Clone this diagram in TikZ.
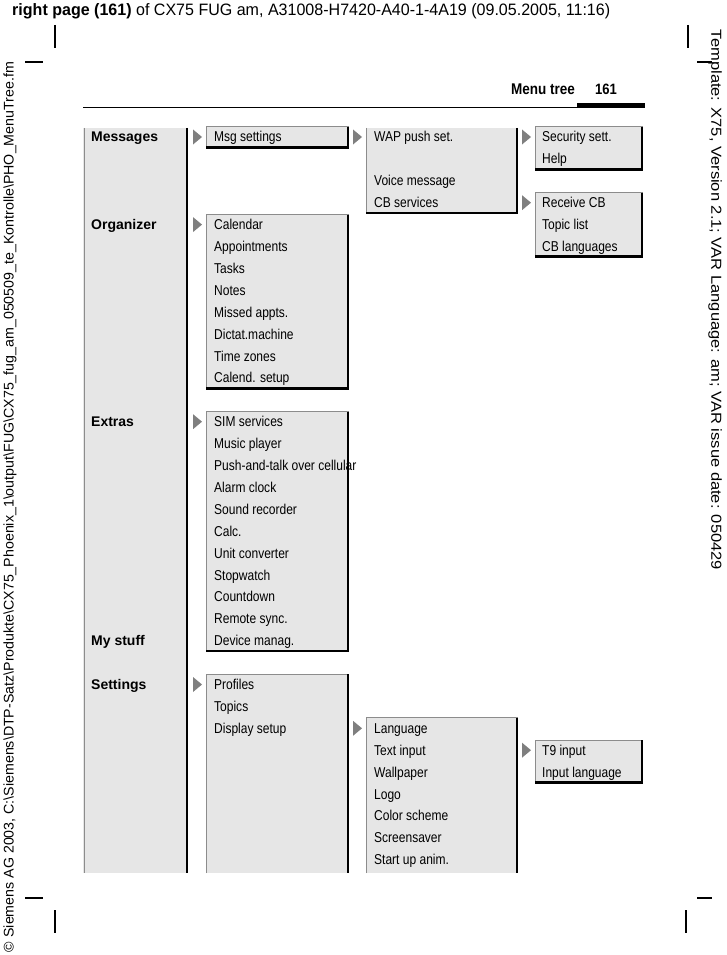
\documentclass[tikz,border=0pt]{standalone}
\usepackage{fontspec}
\setmainfont{Liberation Sans}
\newfontfamily\nar[FakeStretch=0.84]{Liberation Sans}
\newfontfamily\hdr[FakeStretch=0.80]{Liberation Sans}
\newfontfamily\rhead[FakeStretch=0.87]{Liberation Sans}
\definecolor{boxfill}{HTML}{E6E6E6}
\definecolor{thinline}{HTML}{8C8C8C}
\definecolor{trigray}{HTML}{7F7F7F}
\tikzset{
  item/.style={anchor=base west, inner sep=0pt, font=\nar\fontsize{14.3}{16}\selectfont},
  mainlbl/.style={anchor=base west, inner sep=0pt, font=\fontsize{14}{16}\selectfont\bfseries},
  thinedge/.style={draw=thinline, line width=1pt},
  thickedge/.style={draw=black, line width=2.8pt},
  cropmark/.style={draw=black, line width=1.1pt},
  pointer/.style={fill=trigray},
}
\newcommand\tri[2]{\fill[pointer] (#1,{137+21.9*#2-7.5}) -- (#1,{137+21.9*#2+7.5}) -- ({#1+9},{137+21.9*#2}) -- cycle;}
\begin{document}
\begin{tikzpicture}[x=1pt,y=-1pt]
\useasboundingbox (0,0) rectangle (727,955);

% page header
\node[anchor=base west, inner sep=0pt] (pagehead) at (12,16)
  {\resizebox{598pt}{\height}{\hdr\fontsize{16.5}{18}\selectfont\textbf{right page (161)} of CX75 FUG am, A31008-H7420-A40-1-4A19 (09.05.2005, 11:16)}};

% crop marks
\draw[cropmark] (55,25) -- (55,48);
\draw[cropmark] (25,62) -- (43,62);
\draw[cropmark] (688,25) -- (688,48);
\draw[cropmark] (697,62) -- (712,62);
\draw[cropmark] (25,898) -- (43,898);
\draw[cropmark] (55,910) -- (55,933);
\draw[cropmark] (697,898) -- (712,898);
\draw[cropmark] (686,910) -- (686,933);

% side texts
\node[rotate=-90, inner sep=0pt] (template) at (715,300)
  {\resizebox{540pt}{\height}{\fontsize{14.5}{16}\selectfont Template: X75, Version 2.1; VAR Language: am; VAR issue date: 050429}};
\node[rotate=90, inner sep=0pt] (copyright) at (10,507)
  {\resizebox{890pt}{\height}{\hdr\fontsize{14}{16}\selectfont \textcopyright{} Siemens AG 2003, C:\textbackslash Siemens\textbackslash DTP-Satz\textbackslash Produkte\textbackslash CX75\_Phoenix\_1\textbackslash output\textbackslash FUG\textbackslash CX75\_fug\_am\_050509\_te\_Kontrolle\textbackslash PHO\_MenuTree.fm}};

% running head
\node[anchor=base east, inner sep=0pt, font=\rhead\fontsize{15.5}{17}\selectfont\bfseries] (menutree) at (575,95) {Menu tree};
\node[anchor=base east, inner sep=0pt, font=\rhead\fontsize{15}{17}\selectfont\bfseries] (pagenum) at (617,95) {161};
\draw[line width=1.2pt] (83,107.6) -- (645,107.6);
\draw[line width=3.6pt] (577,105.3) -- (645,105.3);

% ---------- fills ----------
\fill[boxfill] (83,128) rectangle (188,873);
\fill[boxfill] (366,128) rectangle (518,{148.5+21.9*3});
\fill[boxfill] (206,{126.5+21.9*25}) rectangle (349,873);
\fill[boxfill] (366,{126.5+21.9*27}) rectangle (518,873);
\foreach \xa/\ra/\xb/\rb in {206/0/349/0, 206/4/349/11, 206/13/349/23, 535/0/643/1, 535/3/643/5, 535/28/643/29}
  \fill[boxfill] (\xa,{126.5+21.9*\ra}) rectangle (\xb,{148.5+21.9*\rb});

% ---------- pointers ----------
\tri{193}{0} \tri{193}{4} \tri{193}{13} \tri{193}{25}
\tri{353}{0} \tri{353}{27}
\tri{522}{0} \tri{522}{3} \tri{522}{28}

% ---------- texts ----------
\node[mainlbl] (messages) at (91,{142+21.9*0}) {Messages};
\node[mainlbl] (organizer) at (91,{142+21.9*4}) {Organizer};
\node[mainlbl] (extras) at (91,{142+21.9*13}) {Extras};
\node[mainlbl] (mystuff) at (91,{142+21.9*23}) {My stuff};
\node[mainlbl] (settings) at (91,{142+21.9*25}) {Settings};

\node[item] (msgset) at (214,{142+21.9*0}) {Msg settings};
\foreach \t [count=\i from 4] in {Calendar,Appointments,Tasks,Notes,Missed appts.,Dictat.machine,Time zones,Calend. setup}
  \node[item] (org\i) at (214,{142+21.9*\i}) {\t};
\foreach \t [count=\i from 13] in {SIM services,Music player,Push-and-talk over cellular,Alarm clock,Sound recorder,Calc.,Unit converter,Stopwatch,Countdown,Remote sync.,Device manag.}
  \node[item] (ext\i) at (214,{142+21.9*\i}) {\t};
\foreach \t [count=\i from 25] in {Profiles,Topics,Display setup}
  \node[item] (set\i) at (214,{142+21.9*\i}) {\t};

\node[item] (wap) at (374,{142+21.9*0}) {WAP push set.};
\node[item] (voice) at (374,{142+21.9*2}) {Voice message};
\node[item] (cbserv) at (374,{142+21.9*3}) {CB services};
\foreach \t [count=\i from 27] in {Language,Text input,Wallpaper,Logo,Color scheme,Screensaver,Start up anim.}
  \node[item] (disp\i) at (374,{142+21.9*\i}) {\t};

\node[item] (security) at (542,{142+21.9*0}) {Security sett.};
\node[item] (help) at (542,{142+21.9*1}) {Help};
\node[item] (receivecb) at (542,{142+21.9*3}) {Receive CB};
\node[item] (topiclist) at (542,{142+21.9*4}) {Topic list};
\node[item] (cblang) at (542,{142+21.9*5}) {CB languages};
\node[item] (tnine) at (542,{142+21.9*28}) {T9 input};
\node[item] (inputlang) at (542,{142+21.9*29}) {Input language};

% ---------- edges ----------
\draw[thinedge] (84,128) -- (84,873);
\draw[thickedge] (187,128) -- (187,873);
\draw[thinedge] (366.5,128) -- (366.5,{148.5+21.9*3});
\draw[thickedge] (517,128) -- (517,{147.2+21.9*3}) -- (366,{147.2+21.9*3});
\draw[thinedge] (206.5,873) -- (206.5,{126.5+21.9*25}) -- (349,{126.5+21.9*25});
\draw[thickedge] (348,{126.5+21.9*25}) -- (348,873);
\draw[thinedge] (366.5,873) -- (366.5,{126.5+21.9*27}) -- (518,{126.5+21.9*27});
\draw[thickedge] (517,{126.5+21.9*27}) -- (517,873);
\foreach \xa/\ra/\xb/\rb in {206/0/349/0, 206/4/349/11, 206/13/349/23, 535/0/643/1, 535/3/643/5, 535/28/643/29}{
  \draw[thinedge] ({\xa+0.5},{148.5+21.9*\rb}) -- ({\xa+0.5},{127+21.9*\ra}) -- (\xb,{127+21.9*\ra});
  \draw[thickedge] ({\xb-1},{127+21.9*\ra}) -- ({\xb-1},{147.2+21.9*\rb}) -- (\xa,{147.2+21.9*\rb});
}
\end{tikzpicture}
\end{document}
